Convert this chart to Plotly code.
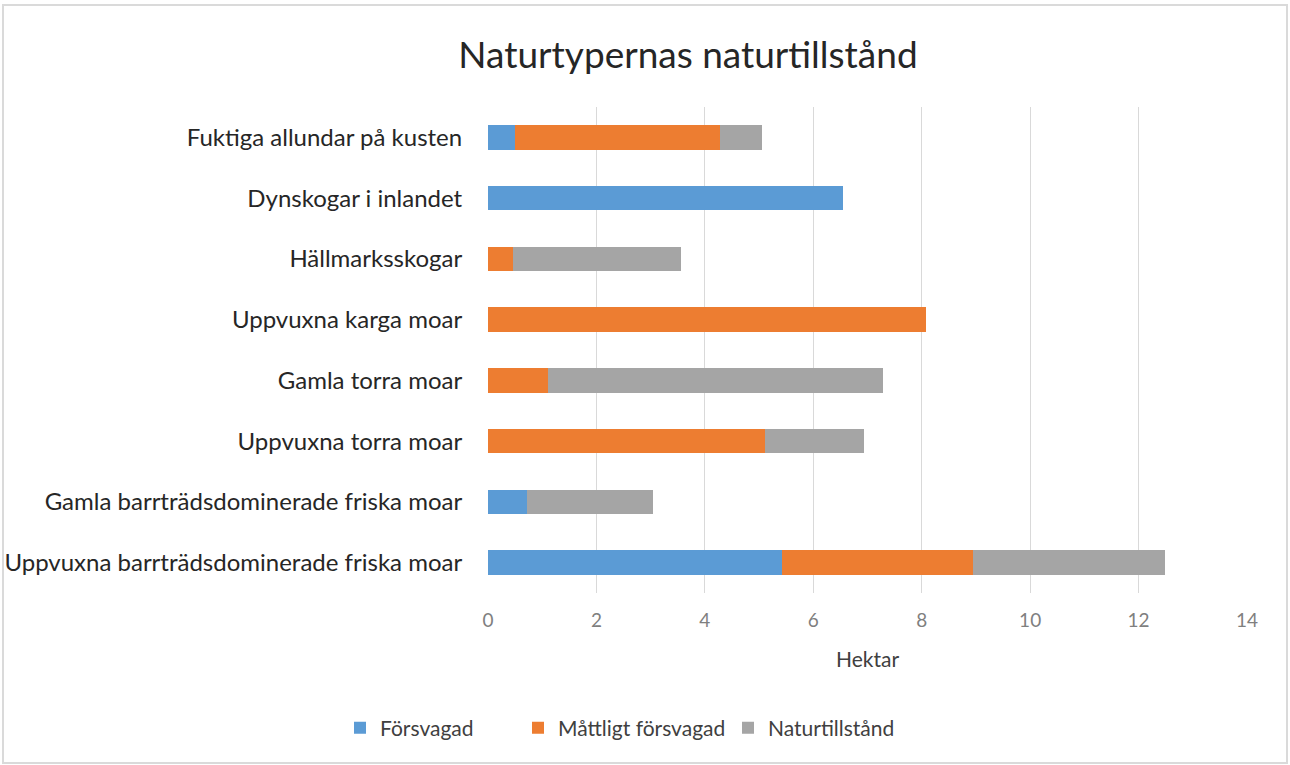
import plotly.graph_objects as go

categories = [
    "Fuktiga allundar på kusten",
    "Dynskogar i inlandet",
    "Hällmarksskogar",
    "Uppvuxna karga moar",
    "Gamla torra moar",
    "Uppvuxna torra moar",
    "Gamla barrträdsdominerade friska moar",
    "Uppvuxna barrträdsdominerade friska moar",
]
forsvagad = [0.5, 6.55, 0, 0, 0, 0, 0.72, 5.42]
mattligt = [3.78, 0, 0.46, 8.08, 1.1, 5.11, 0, 3.53]
naturtillstand = [0.77, 0, 3.1, 0, 6.19, 1.83, 2.32, 3.54]
series_names = ["Försvagad", "Måttligt försvagad", "Naturtillstånd"]
colors = ["#5B9BD5", "#ED7D31", "#A5A5A5"]
x_ticks = [0, 2, 4, 6, 8, 10, 12, 14]

FONT = "Lato, 'Open Sans', sans-serif"
W, H = 1290, 765
L, R, T, B = 488, 43, 107, 172
pw, ph = W - L - R, H - T - B

legend_ids = ["legend", "legend2", "legend3"]
legend_left = [340, 518, 728]

fig = go.Figure()
for name, vals, col, lid in zip(series_names, [forsvagad, mattligt, naturtillstand], colors, legend_ids):
    fig.add_trace(go.Bar(
        y=categories, x=vals, name=name, orientation="h", legend=lid,
        showlegend=True,
        marker=dict(color=col, line=dict(width=0)),
    ))

legend_layout = {}
for lid, lx in zip(legend_ids, legend_left):
    legend_layout[lid] = dict(
        orientation="h", xref="container", yref="container", x=lx / W,
        xanchor="left", y=1 - 728 / H, yanchor="middle",
        font=dict(size=21, color="#404040"), itemwidth=30,
        bgcolor="rgba(0,0,0,0)", visible=True,
    )

fig.update_layout(
    width=W, height=H,
    showlegend=True,
    barmode="stack", bargap=0.6,
    paper_bgcolor="white", plot_bgcolor="white",
    margin=dict(l=L, r=R, t=T, b=B, autoexpand=False),
    font=dict(family=FONT, color="#404040"),
    title=dict(text="Naturtypernas naturtillstånd", x=688 / W, xref="container",
               xanchor="center", y=1 - 55 / H, yref="container", yanchor="middle",
               font=dict(size=37, color="#262626", family=FONT)),
    xaxis=dict(range=[0, 14], tickvals=x_ticks, showgrid=True, gridcolor="#D9D9D9",
               gridwidth=1, zeroline=False, showline=False, automargin=False,
               tickfont=dict(size=19, color="#7F7F7F"), ticks="outside", ticklen=10,
               tickcolor="rgba(0,0,0,0)",
               title=dict(text="Hektar", font=dict(size=21, color="#404040"), standoff=22)),
    yaxis=dict(autorange="reversed", showgrid=False, zeroline=False, showline=False,
               automargin=False,
               tickfont=dict(size=24, color="#262626"), ticks="outside", ticklen=20,
               tickcolor="rgba(0,0,0,0)"),
    shapes=[dict(type="rect", xref="paper", yref="paper",
                 x0=(3 - L) / pw, x1=(1287 - L) / pw,
                 y0=(H - B - 763) / ph, y1=(H - B - 5) / ph,
                 line=dict(color="#DADADA", width=2), fillcolor="rgba(0,0,0,0)",
                 layer="below")],
    **legend_layout,
)

fig.write_html("out.html", config={"displayModeBar": False},
               post_script="document.body.style.margin='0';")
